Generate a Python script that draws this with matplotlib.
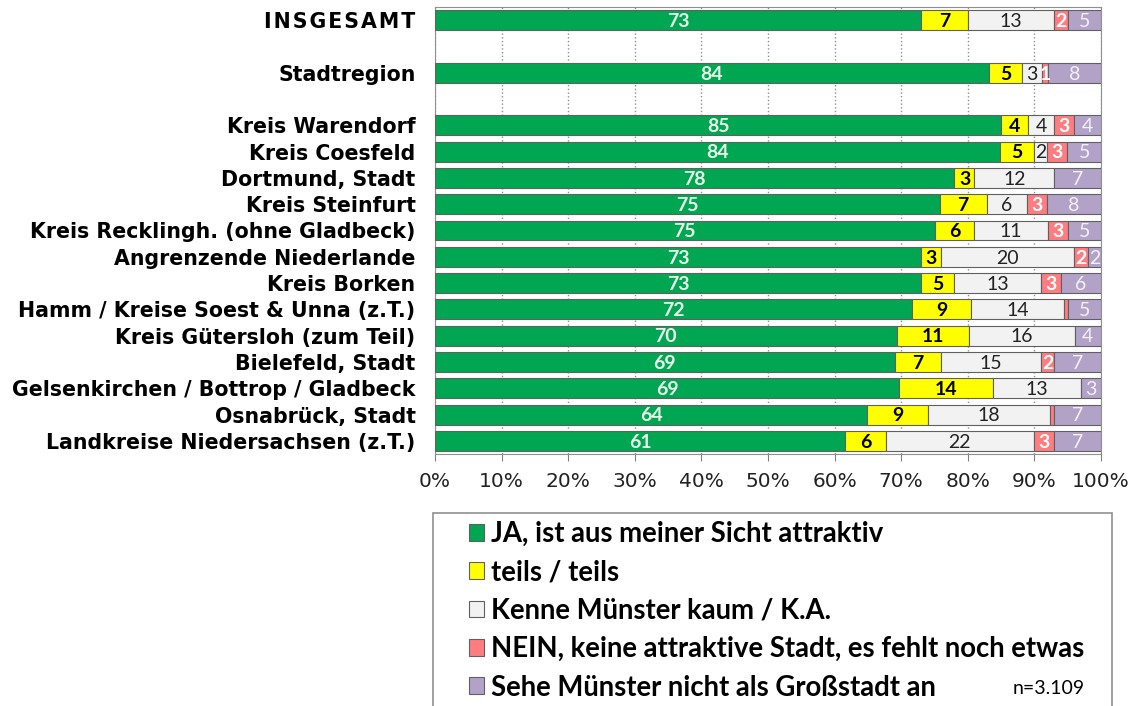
import numpy as np
import matplotlib.pyplot as plt
from matplotlib.patches import Rectangle

# Attraktivität Münster - Antworten nach Herkunftsregion (Angaben in %)
regionen = ['I\u200aN\u200aS\u200aG\u200aE\u200aS\u200aA\u200aM\u200aT', '', 'Stadtregion', '',
            'Kreis Warendorf', 'Kreis Coesfeld', 'Dortmund, Stadt',
            'Kreis Steinfurt', 'Kreis Recklingh. (ohne Gladbeck)',
            'Angrenzende Niederlande', 'Kreis Borken',
            'Hamm / Kreise Soest & Unna (z.T.)', 'Kreis Gütersloh (zum Teil)',
            'Bielefeld, Stadt', 'Gelsenkirchen / Bottrop / Gladbeck',
            'Osnabrück, Stadt', 'Landkreise Niedersachsen (z.T.)']

ja      = [73, 0, 84, 0, 85, 84, 78, 75, 75, 73, 73, 72, 70, 69, 69, 64, 61]
teils   = [7, 0, 5, 0, 4, 5, 3, 7, 6, 3, 5, 9, 11, 7, 14, 9, 6]
kenne   = [13, 0, 3, 0, 4, 2, 12, 6, 11, 20, 13, 14, 16, 15, 13, 18, 22]
nein    = [2, 0, 1, 0, 3, 3, 0, 3, 3, 2, 3, 0.6, 0, 2, 0, 0.6, 3]
keine_gs = [5, 0, 8, 0, 4, 5, 7, 8, 5, 2, 6, 5, 4, 7, 3, 7, 7]

legenden = ['JA, ist aus meiner Sicht attraktiv', 'teils / teils',
            'Kenne Münster kaum / K.A.',
            'NEIN, keine attraktive Stadt, es fehlt noch etwas',
            'Sehe Münster nicht als Großstadt an']
farben = ['#00A651', '#FFFF00', '#F2F2F2', '#FF7C80', '#B3A2C7']
# Textfarbe und Gewicht je Kategorie
txtfarben = ['#EAF6EA', 'black', '#222222', 'white', '#F4F0FA']
txtgewicht = ['bold', 'bold', 'normal', 'bold', 'normal']

serien = np.array([ja, teils, kenne, nein, keine_gs], dtype=float)
summe = serien.sum(axis=0)
summe[summe == 0] = 1
anteile = serien / summe * 100   # 100%-gestapelt wie in Excel

plt.rcParams['font.family'] = 'DejaVu Sans'
fig = plt.figure(figsize=(11.33, 7.06), dpi=100)
ax = fig.add_axes([435/1133, 1 - 454/706, 666/1133, 447/706])

y = np.arange(len(regionen))
links = np.zeros(len(regionen))
handles = []
for i in range(5):
    lw = np.where(anteile[i] > 0, 0.8, 0.0)
    b = ax.barh(y, anteile[i], left=links, height=0.76, color=farben[i],
                edgecolor='#606060', linewidth=lw, zorder=3)
    handles.append(b)
    for k in range(len(regionen)):
        v = serien[i, k]
        if v >= 1:
            ax.text(links[k] + anteile[i, k] / 2, y[k] + 0.05, f'{v:.0f}',
                    ha='center', va='center', fontsize=14,
                    color=txtfarben[i], fontweight=txtgewicht[i],
                    family='Lato', zorder=4)
    links += anteile[i]

ax.set_xlim(0, 100)
ax.set_ylim(len(regionen) - 0.5, -0.5)
ax.set_yticks(y)
ax.set_yticklabels(regionen, fontsize=14.8, fontweight='bold')
ax.tick_params(axis='y', length=0, pad=14)
ax.set_xticks(np.arange(0, 101, 10))
ax.set_xticklabels([f'{t}%' for t in range(0, 101, 10)], fontsize=14.5,
                   color='#222222')
ax.tick_params(axis='x', direction='out', length=5, color='#808080', pad=8)
ax.grid(axis='x', linestyle=':', color='#909090', linewidth=1, zorder=0)
for s in ax.spines.values():
    s.set_color('#909090')

# Legendenrahmen (unten abgeschnitten wie im Original)
fig.patches.append(Rectangle((433/1133, -0.05), 679/1133, 1 - 513/706 + 0.05,
                             transform=fig.transFigure, facecolor='white',
                             edgecolor='#909090', linewidth=1.2, zorder=1))
leg = fig.legend(handles, legenden, loc='upper left',
                 bbox_to_anchor=(469/1133, 1 - 521/706),
                 frameon=False,
                 prop={'family': 'Lato', 'weight': 'bold', 'size': 19.8},
                 handlelength=0.55, handleheight=0.55, handletextpad=0.25,
                 labelspacing=0.45, borderpad=0.0, borderaxespad=0)
leg.set_zorder(5)
fig.text(1085/1133, 1 - 689/706, 'n=3.109', ha='right', va='center',
         fontsize=14, family='Lato', zorder=10)

fig.savefig('out.png', dpi=100)
